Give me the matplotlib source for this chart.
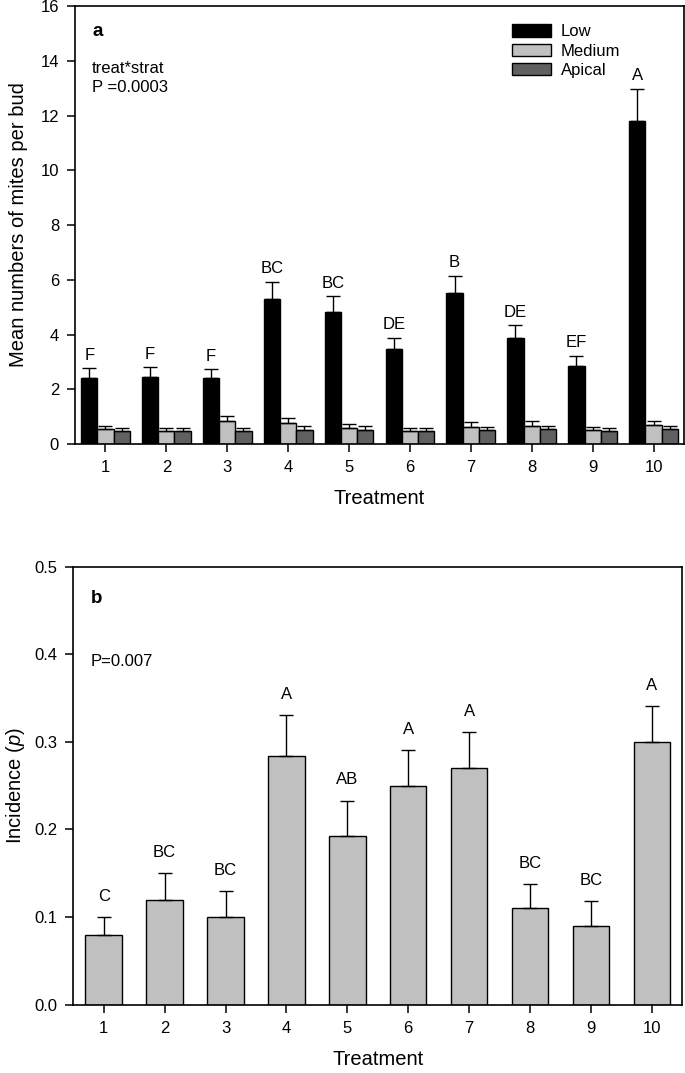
import numpy as np
import matplotlib
matplotlib.use("Agg")
import matplotlib.pyplot as plt
import matplotlib.patches as mpatches

plt.rcParams["font.family"] = ["Liberation Sans", "DejaVu Sans"]
plt.rcParams["mathtext.fontset"] = "custom"
plt.rcParams["mathtext.it"] = "Liberation Sans:italic"
plt.rcParams["mathtext.rm"] = "Liberation Sans"

# Panel a: mean mites per bud by stratum
treatments = [1, 2, 3, 4, 5, 6, 7, 8, 9, 10]
low_mean = [2.42, 2.46, 2.42, 5.29, 4.83, 3.46, 5.52, 3.86, 2.86, 11.79]
low_err = [0.34, 0.34, 0.32, 0.63, 0.56, 0.42, 0.62, 0.48, 0.36, 1.18]
med_mean = [0.55, 0.46, 0.85, 0.75, 0.58, 0.47, 0.63, 0.67, 0.52, 0.71]
med_err = [0.12, 0.13, 0.18, 0.19, 0.14, 0.13, 0.16, 0.16, 0.11, 0.14]
api_mean = [0.49, 0.49, 0.49, 0.52, 0.52, 0.49, 0.51, 0.53, 0.48, 0.53]
api_err = [0.11, 0.11, 0.11, 0.15, 0.12, 0.11, 0.12, 0.11, 0.12, 0.13]
low_letters = ["F", "F", "F", "BC", "BC", "DE", "B", "DE", "EF", "A"]

# Panel b: incidence
inc_mean = [0.08, 0.12, 0.10, 0.284, 0.192, 0.25, 0.27, 0.11, 0.09, 0.30]
inc_err = [0.02, 0.03, 0.03, 0.047, 0.041, 0.041, 0.041, 0.028, 0.028, 0.041]
inc_letters = ["C", "BC", "BC", "A", "AB", "A", "A", "BC", "BC", "A"]

fig = plt.figure(figsize=(6.85, 10.73), dpi=100)


def style_axes(ax):
    for side in ["left", "right", "top", "bottom"]:
        ax.spines[side].set_linewidth(1.2)
    ax.tick_params(direction="out", length=5.5, width=1.1, pad=6,
                   labelsize=12, top=False, right=False)


# ---- panel a ----
ax1 = fig.add_axes([0.1095, 0.5862, 0.889, 0.4082])
x = np.array(treatments)
w = 0.8 / 3
series = [(low_mean, low_err, "black", "Low"),
          (med_mean, med_err, "#c0c0c0", "Medium"),
          (api_mean, api_err, "#606060", "Apical")]
for i, (m, e, c, lab) in enumerate(series):
    xs = x + (i - 1) * w
    ax1.bar(xs, m, width=w, color=c, edgecolor="black", linewidth=1.0, label=lab)
    ax1.errorbar(xs, m, yerr=[np.zeros(len(e)), e], fmt="none", ecolor="black",
                 elinewidth=1.0, capsize=4.7, capthick=1.0)
for xi, m, e, t in zip(x - w, low_mean, low_err, low_letters):
    ax1.text(xi, m + e + 0.2, t, ha="center", va="bottom", fontsize=12)

ax1.set_xlim(0.5, 10.5)
ax1.set_ylim(0, 16)
ax1.set_xticks(treatments)
ax1.set_yticks(range(0, 17, 2))
ax1.set_xlabel("Treatment", fontsize=14.5, labelpad=10)
ax1.set_ylabel("Mean numbers of mites per bud", fontsize=14.5, labelpad=9)
style_axes(ax1)
ax1.text(0.028, 0.941, "a", transform=ax1.transAxes, fontsize=13.5,
         fontweight="bold", va="center")
ax1.text(0.028, 0.858, "treat*strat", transform=ax1.transAxes, fontsize=12,
         va="center")
ax1.text(0.028, 0.815, "P =0.0003", transform=ax1.transAxes, fontsize=12,
         va="center")
handles = [mpatches.Patch(facecolor=c, edgecolor="black", label=l)
           for _, _, c, l in series]
ax1.legend(handles=handles, loc="upper left", bbox_to_anchor=(0.717, 0.958),
           frameon=False, fontsize=12, handlelength=2.35, handleheight=0.76,
           labelspacing=0.25, handletextpad=0.6, borderpad=0, borderaxespad=0)

# ---- panel b ----
ax2 = fig.add_axes([0.107, 0.0637, 0.889, 0.4081])
ax2.bar(x, inc_mean, width=0.6, color="#c0c0c0", edgecolor="black", linewidth=1.0)
ax2.errorbar(x, inc_mean, yerr=[np.zeros(len(inc_err)), inc_err], fmt="none",
             ecolor="black", elinewidth=1.0, capsize=4.7, capthick=1.0)
for xi, m, e, t in zip(x, inc_mean, inc_err, inc_letters):
    ax2.text(xi, m + e + 0.015, t, ha="center", va="bottom", fontsize=12)

ax2.set_xlim(0.5, 10.5)
ax2.set_ylim(0, 0.5)
ax2.set_xticks(treatments)
ax2.set_yticks([0.0, 0.1, 0.2, 0.3, 0.4, 0.5])
ax2.set_yticklabels(["0.0", "0.1", "0.2", "0.3", "0.4", "0.5"])
ax2.set_xlabel("Treatment", fontsize=14.5, labelpad=10)
ax2.set_ylabel("Incidence ($\\mathit{p}$)", fontsize=14.5, labelpad=5)
style_axes(ax2)
ax2.text(0.029, 0.928, "b", transform=ax2.transAxes, fontsize=13.5,
         fontweight="bold", va="center")
ax2.text(0.029, 0.783, "P=0.007", transform=ax2.transAxes, fontsize=12,
         va="center")

fig.savefig("out.png", dpi=100)
